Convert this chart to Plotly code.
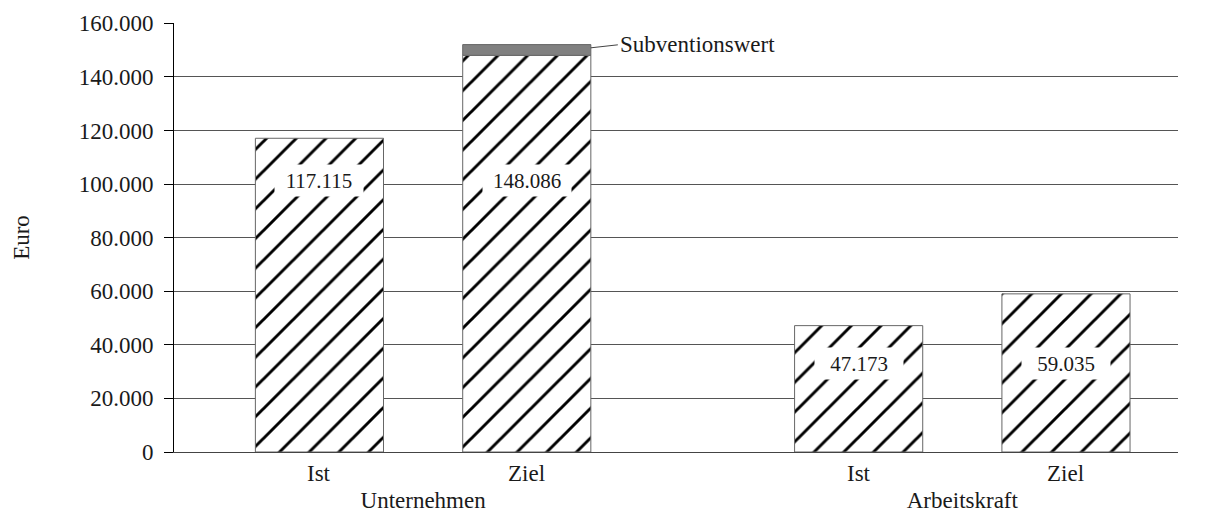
import plotly.graph_objects as go

########
# DATA #
########

GROUPS = ["Unternehmen", "Arbeitskraft"]
BAR_NAMES = ["Ist", "Ziel"]
IST = [117115, 47173]
ZIEL = [148086, 59035]
SUBVENTION = [4000, None]
SUBVENTION_LABEL = "Subventionswert"
Y_TITLE = "Euro"
Y_TICKS = [0, 20000, 40000, 60000, 80000, 100000, 120000, 140000, 160000]

#########
# STYLE #
#########

FONT = "Liberation Serif, Times New Roman, serif"
TEXT_COLOR = "#1a1a1a"
GRID_COLOR = "#555555"
OUTLINE = dict(color="#666666", width=1)

# page body has an 8px margin, so the figure is drawn that much smaller
WIDTH = 1211 - 8
HEIGHT = 515 - 8

BARGAP = 0.231
BARGROUPGAP = 0.382
OFFSET = (1 - BARGAP) / 4
BAR_WIDTH = (1 - BARGAP) / 2 * (1 - BARGROUPGAP)

# height of the value boxes inside the bars, per group
LABEL_Y = [101500, 33000]

HATCH = dict(
    color="white",
    line=OUTLINE,
    pattern=dict(
        shape="/",
        fillmode="replace",
        fgcolor="black",
        fgopacity=1,
        bgcolor="white",
        size=21,
        solidity=0.14,
    ),
)


def fmt(v):
    return f"{v:,}".replace(",", ".")


##########
# Figure #
##########

fig = go.Figure()

fig.add_bar(x=GROUPS, y=IST, name=BAR_NAMES[0], offsetgroup="ist", marker=HATCH)
fig.add_bar(x=GROUPS, y=ZIEL, name=BAR_NAMES[1], offsetgroup="ziel", marker=HATCH)
fig.add_bar(
    x=GROUPS,
    y=SUBVENTION,
    base=ZIEL,
    name=SUBVENTION_LABEL,
    offsetgroup="ziel",
    marker=dict(color="#808080", line=OUTLINE),
)

annotations = []

# value boxes and Ist / Ziel labels under the bars
for i, group in enumerate(GROUPS):
    for j, values in enumerate([IST, ZIEL]):
        xpos = i + (OFFSET if j else -OFFSET)
        annotations.append(
            dict(
                x=xpos,
                y=LABEL_Y[i],
                text=fmt(values[i]),
                showarrow=False,
                bgcolor="white",
                width=86,
                height=29,
                font=dict(size=21, color=TEXT_COLOR),
            )
        )
        annotations.append(
            dict(
                x=xpos,
                y=0,
                yref="paper",
                yanchor="top",
                yshift=-7,
                text=BAR_NAMES[j],
                showarrow=False,
                font=dict(size=23, color=TEXT_COLOR),
            )
        )

# leader to the subsidy segment
annotations.append(
    dict(
        x=OFFSET + BAR_WIDTH / 2,
        y=ZIEL[0] + SUBVENTION[0] * 0.7,
        text=SUBVENTION_LABEL,
        showarrow=True,
        arrowhead=0,
        arrowwidth=1,
        arrowcolor="#444444",
        ax=27,
        ay=-3,
        xanchor="left",
        font=dict(size=23, color=TEXT_COLOR),
    )
)

fig.update_layout(
    width=WIDTH,
    height=HEIGHT,
    margin=dict(l=166, r=33, t=15, b=63),
    paper_bgcolor="white",
    plot_bgcolor="white",
    font=dict(family=FONT, size=23, color=TEXT_COLOR),
    separators=",.",
    barmode="group",
    bargap=BARGAP,
    bargroupgap=BARGROUPGAP,
    showlegend=False,
    annotations=annotations,
)

fig.update_xaxes(
    type="category",
    range=[-0.462, 1.40],
    automargin=False,
    showgrid=False,
    showline=True,
    linecolor="#444444",
    linewidth=1,
    ticks="",
    ticklabelstandoff=27,
    tickfont=dict(size=23),
)

fig.update_yaxes(
    range=[0, 160150],
    automargin=False,
    tickvals=Y_TICKS,
    tickformat=",d",
    showgrid=True,
    gridcolor=GRID_COLOR,
    gridwidth=1,
    zeroline=False,
    showline=True,
    linecolor="black",
    linewidth=1,
    ticks="outside",
    ticklen=9,
    tickcolor="black",
    ticklabelstandoff=6,
    tickfont=dict(size=23),
    title=dict(text=Y_TITLE, standoff=42, font=dict(size=23)),
)

fig.write_html("out.html")
